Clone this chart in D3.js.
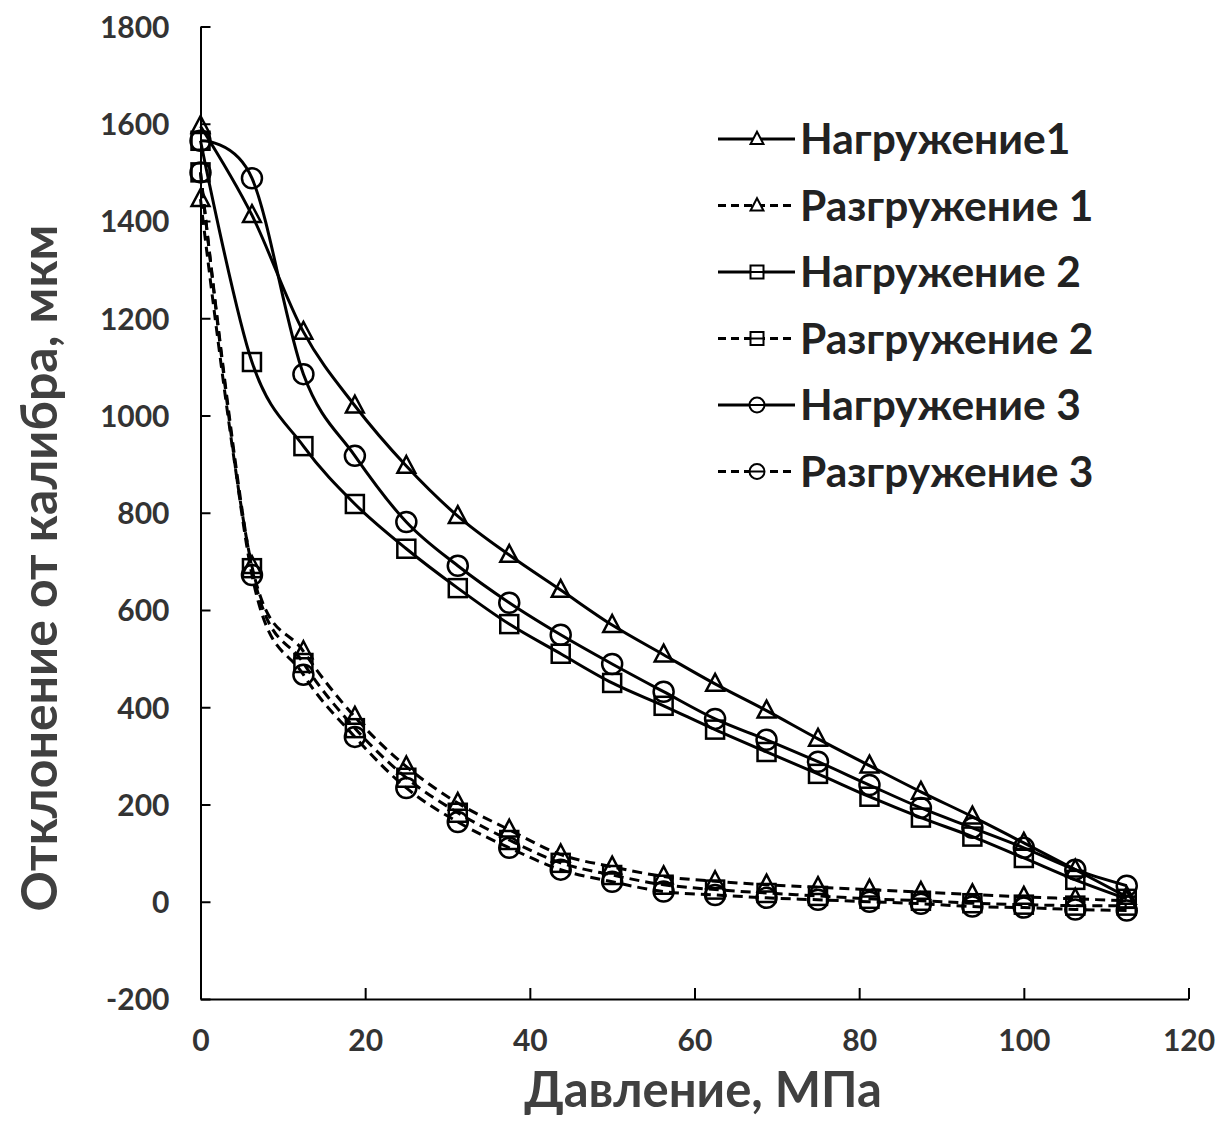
<!DOCTYPE html>
<html>
<head>
<meta charset="utf-8">
<script src="https://cdn.jsdelivr.net/npm/d3@7"></script>
<style>
  body { margin: 0; background: #fff; }
  svg text { font-family: Lato, "Open Sans", sans-serif; font-weight: bold; }
</style>
</head>
<body>
<svg width="1231" height="1147"></svg>
<script>
/* --------------- Datos --------------- */
const pressure = [0, 6.25, 12.5, 18.75, 25, 31.25, 37.5, 43.75, 50, 56.25, 62.5, 68.75, 75, 81.25, 87.5, 93.75, 100, 106.25, 112.5];

const load1   = [1595, 1412, 1172, 1020, 896, 793, 713, 641, 569, 508, 448, 393, 335, 280, 226, 175, 121, 66, 10];
const unload1 = [1445, 690, 515, 380, 278, 203, 148, 97, 72, 52, 42, 35, 30, 25, 20, 15, 10, 6, 2];
const load2   = [1565, 1110, 937, 818, 726, 645, 571, 510, 450, 403, 354, 308, 263, 216, 173, 134, 90, 45, 6];
const unload2 = [1500, 686, 491, 357, 255, 183, 127, 80, 55, 35, 25, 18, 12, 6, 2, -3, -6, -8, -8];
const load3   = [1565, 1488, 1085, 917, 781, 691, 615, 549, 489, 432, 376, 333, 288, 240, 193, 152, 111, 66, 33];
const unload3 = [1500, 672, 467, 339, 234, 164, 111, 66, 41, 21, 14, 8, 4, 0, -4, -10, -12, -16, -18];

const seriesNames = ["Нагружение1", "Разгружение 1", "Нагружение 2", "Разгружение 2", "Нагружение 3", "Разгружение 3"];
const seriesValues = [load1, unload1, load2, unload2, load3, unload3];
const seriesMarker = ["tri", "tri", "sq", "sq", "circ", "circ"];
const seriesDashed = [false, true, false, true, false, true];

const xTicks = [0, 20, 40, 60, 80, 100, 120];
const yTicks = [-200, 0, 200, 400, 600, 800, 1000, 1200, 1400, 1600, 1800];

/* --------------- Grafica --------------- */
const svg = d3.select("svg");
svg.append("rect").attr("width", 1231).attr("height", 1147).attr("fill", "#fff");

const x = d3.scaleLinear().domain([0, 120]).range([200.5, 1188.5]);
const y = d3.scaleLinear().domain([-200, 1800]).range([999, 26.5]);

// ejes
const yAxis = d3.axisLeft(y).tickValues(yTicks).tickFormat(d => String(d))
    .tickSizeInner(-10).tickSizeOuter(0).tickPadding(31);
const xAxis = d3.axisBottom(x).tickValues(xTicks).tickFormat(d => String(d))
    .tickSizeInner(-11).tickSizeOuter(0).tickPadding(30);

const gy = svg.append("g").attr("transform", `translate(${x(0)},0)`).call(yAxis);
const gx = svg.append("g").attr("transform", `translate(0,${y(-200)})`).call(xAxis);

[gx, gy].forEach(g => {
    g.select(".domain").attr("stroke", "#000").attr("stroke-width", 2);
    g.selectAll(".tick line").attr("stroke", "#000").attr("stroke-width", 2);
    g.selectAll(".tick text").attr("fill", "#333").style("font-size", "30px");
});
gy.selectAll(".tick text").attr("dy", "0.36em");
gx.selectAll(".tick text").attr("dy", "0.72em");

// titulos
svg.append("text")
    .attr("x", 703).attr("y", 1107)
    .attr("text-anchor", "middle")
    .attr("fill", "#404040")
    .style("font-size", "49px")
    .text("Давление, МПа");

svg.append("text")
    .attr("transform", "translate(57,568) rotate(-90)")
    .attr("text-anchor", "middle")
    .attr("fill", "#404040")
    .style("font-size", "50px")
    .text("Отклонение от калибра, мкм");

// marcadores
function drawMarker(g, type, size) {
    if (type === "tri") {
        const s = size * 0.9;
        g.append("path")
            .attr("d", `M0,${-s * 0.62} L${s * 0.55},${s * 0.42} L${-s * 0.55},${s * 0.42} Z`);
    } else if (type === "sq") {
        g.append("rect").attr("x", -size / 2).attr("y", -size / 2).attr("width", size).attr("height", size);
    } else {
        g.append("circle").attr("r", size / 2 + 1);
    }
}

const line = d3.line()
    .x((d, i) => x(pressure[i]))
    .y(d => y(d))
    .curve(d3.curveCardinal.tension(0));

seriesValues.forEach((vals, k) => {
    svg.append("path")
        .datum(vals)
        .attr("fill", "none")
        .attr("stroke", "#000")
        .attr("stroke-width", 3)
        .attr("stroke-dasharray", seriesDashed[k] ? "10,6" : null)
        .attr("d", line);

    const pts = svg.append("g").selectAll("g")
        .data(vals)
        .enter().append("g")
        .attr("transform", (d, i) => `translate(${x(pressure[i])},${y(d)})`)
        .attr("fill", "none")
        .attr("stroke", "#000")
        .attr("stroke-width", 2.5);
    pts.each(function () { drawMarker(d3.select(this), seriesMarker[k], 18); });
});

// leyenda
const legend = svg.append("g").attr("transform", "translate(718,139)");
seriesNames.forEach((name, k) => {
    const row = legend.append("g").attr("transform", `translate(0,${k * 66.5})`);
    row.append("line")
        .attr("x1", 0).attr("x2", 77).attr("y1", 0).attr("y2", 0)
        .attr("stroke", "#000").attr("stroke-width", 3)
        .attr("stroke-dasharray", seriesDashed[k] ? "8,5" : null);
    const m = row.append("g").attr("transform", "translate(39,0)")
        .attr("fill", "#fff").attr("stroke", "#000").attr("stroke-width", 2);
    drawMarker(m, seriesMarker[k], 13);
    if (seriesMarker[k] !== "tri") {
        m.append("line").attr("x1", -7).attr("x2", 7).attr("stroke", "#000").attr("stroke-width", 2);
    }
    row.append("text")
        .attr("x", 82).attr("y", 0).attr("dy", "0.36em")
        .attr("fill", "#222")
        .style("font-size", "42.5px")
        .text(name);
});
</script>
</body>
</html>
